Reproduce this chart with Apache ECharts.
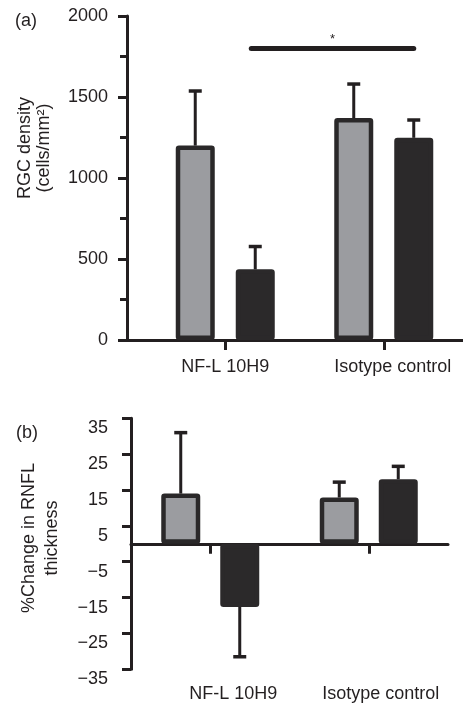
<!DOCTYPE html>
<html><head><meta charset="utf-8">
<script src="https://cdn.jsdelivr.net/npm/echarts@6/dist/echarts.min.js"></script>
<style>html,body{margin:0;padding:0;background:#fff}#c{width:463px;height:706px}</style>
</head><body><div id="c"></div>
<script>
// ---- data ----
const categories = ['NF-L 10H9', 'Isotype control'];
// (a) RGC density (cells/mm²)
const rgcGray = [1200, 1370];
const rgcGrayErr = [337, 210];
const rgcBlack = [436, 1248];
const rgcBlackErr = [141, 110];
const rgcSigValue = 1800;
const rgcSigLabel = '*';
// (b) % change in RNFL thickness
const rnflGray = [14.0, 12.9];
const rnflGrayErr = [17.0, 4.3];
const rnflBlack = [-17.6, 18.0];
const rnflBlackErr = [13.9, 3.6];
// axes
const rgcAxis = { min: 0, max: 2000, interval: 500 };
const rnflAxis = { min: -35, max: 35, interval: 10 };

// ---- style ----
const INK = '#231f20';
const GRAY = '#9b9ca0';
const DARK = '#2b292a';
const FONT = 'Liberation Sans';
const FS = 18;
const BAR_W = 39, BORDER = 4.5;
const GAP_A = 21, GAP_B = 20;

const chart = echarts.init(document.getElementById('c'), null, { renderer: 'canvas' });

function barSeries(name, data, xi, yi, color, gap) {
  return {
    type: 'bar', name, data, xAxisIndex: xi, yAxisIndex: yi,
    barWidth: BAR_W, barGap: (gap / BAR_W * 100) + '%',
    itemStyle: { color: color, borderColor: color === GRAY ? '#2a2829' : DARK, borderWidth: BORDER, borderRadius: 1 },
    emphasis: { disabled: true }, silent: true, z: 3
  };
}

function errData(g, ge, b, be) {
  const out = [];
  categories.forEach((c, i) => {
    out.push([i, g[i], ge[i], -1]);
    out.push([i, b[i], be[i], 1]);
  });
  return out;
}

function errSeries(data, xi, yi, gap) {
  const off = (BAR_W + gap) / 2;
  return {
    type: 'custom', xAxisIndex: xi, yAxisIndex: yi, data, silent: true, z: 4,
    renderItem(params, api) {
      const ci = api.value(0), mean = api.value(1), err = api.value(2), side = api.value(3);
      const end = mean + (mean >= 0 ? err : -err);
      const p0 = api.coord([ci, mean]);
      const p1 = api.coord([ci, end]);
      const x = p0[0] + side * off;
      return {
        type: 'group', children: [
          { type: 'line', shape: { x1: x, y1: p0[1], x2: x, y2: p1[1] }, style: { stroke: INK, lineWidth: 3 } },
          { type: 'line', shape: { x1: x - 6.5, y1: p1[1], x2: x + 6.5, y2: p1[1] }, style: { stroke: INK, lineWidth: 3.5 } }
        ]
      };
    }
  };
}

const sigSeries = {
  type: 'custom', xAxisIndex: 0, yAxisIndex: 0, data: [[0, 1, rgcSigValue]], silent: true, z: 4,
  renderItem(params, api) {
    const off = (BAR_W + GAP_A) / 2;
    const a = api.coord([api.value(0), api.value(2)]);
    const b = api.coord([api.value(1), api.value(2)]);
    const x1 = a[0] + off - 4, x2 = b[0] + off;
    return {
      type: 'group', children: [
        { type: 'line', shape: { x1, y1: a[1], x2, y2: b[1] }, style: { stroke: INK, lineWidth: 5, lineCap: 'round' } },
        { type: 'text', x: (x1 + x2) / 2, y: a[1] - 9, style: { text: rgcSigLabel, fontSize: 13, fontFamily: FONT, fill: INK, align: 'center', verticalAlign: 'middle' } }
      ]
    };
  }
};

const labelStyle = { color: INK, fontSize: FS, fontFamily: FONT };
const axisLineStyle = { color: INK, width: 3 };

const option = {
  animation: false,
  backgroundColor: '#fff',
  grid: [
    { left: 146, top: 16, width: 320, height: 324 },
    { left: 131, top: 418.3, width: 317, height: 251 },
    { left: 127, top: 16, width: 336, height: 324 }
  ],
  xAxis: [
    { type: 'category', gridIndex: 0, data: categories.map((c, i) => ({ value: c, textStyle: { padding: [0, 0, 0, [0, 18][i]] } })),
      axisLine: { show: false }, axisTick: { show: true, alignWithLabel: true, length: 10, lineStyle: axisLineStyle },
      axisLabel: Object.assign({ margin: 18 }, labelStyle), splitLine: { show: false } },
    { type: 'category', gridIndex: 1, position: 'top', data: categories,
      axisLine: { show: true, onZero: true, lineStyle: axisLineStyle },
      axisTick: { show: true, inside: true, alignWithLabel: true, length: 10, lineStyle: axisLineStyle },
      axisLabel: { show: false }, splitLine: { show: false } },
    { type: 'category', gridIndex: 1, position: 'bottom', data: categories.map((c, i) => ({ value: c, textStyle: { padding: [0, 0, 0, [46, 24][i]] } })),
      axisLine: { show: false, onZero: false }, axisTick: { show: false },
      axisLabel: Object.assign({ margin: 16 }, labelStyle), splitLine: { show: false } },
    { type: 'value', gridIndex: 2, min: 0, max: 1, axisLine: { show: true, onZero: true, lineStyle: axisLineStyle },
      axisTick: { show: false }, axisLabel: { show: false }, splitLine: { show: false } }
  ],
  yAxis: [
    { type: 'value', gridIndex: 0, offset: 19, min: rgcAxis.min, max: rgcAxis.max, interval: rgcAxis.interval,
      axisLine: { show: true, lineStyle: axisLineStyle },
      axisTick: { show: true, length: 9, lineStyle: axisLineStyle },
      minorTick: { show: true, splitNumber: 2, length: 7, lineStyle: { color: INK, width: 3 } },
      minorSplitLine: { show: false },
      axisLabel: Object.assign({ margin: 19, formatter: v => String(v) }, labelStyle), splitLine: { show: false } },
    { type: 'value', gridIndex: 1, min: rnflAxis.min, max: rnflAxis.max, interval: rnflAxis.interval,
      axisLine: { show: true, onZero: false, lineStyle: axisLineStyle },
      axisTick: { show: true, length: 9, lineStyle: axisLineStyle },
      axisLabel: Object.assign({ margin: 23, verticalAlign: 'top', lineHeight: 20, formatter: v => String(v).replace('-', '\u2212') }, labelStyle),
      splitLine: { show: false } },
    { type: 'value', gridIndex: 2, min: 0, max: 1, show: false }
  ],
  graphic: [
    { type: 'text', left: 15, top: 12, style: { text: '(a)', fontSize: FS, fontFamily: FONT, fill: INK } },
    { type: 'text', left: 16, top: 424, style: { text: '(b)', fontSize: FS, fontFamily: FONT, fill: INK } },
    { type: 'text', x: 35, y: 148, rotation: Math.PI / 2,
      style: { text: 'RGC density\n(cells/mm\u00b2)', fontSize: FS, lineHeight: 19, fontFamily: FONT, fill: INK, align: 'center', verticalAlign: 'middle' } },
    { type: 'text', x: 41, y: 538, rotation: Math.PI / 2,
      style: { text: '%Change in RNFL\nthickness', fontSize: FS, lineHeight: 23, fontFamily: FONT, fill: INK, align: 'center', verticalAlign: 'middle' } }
  ],
  series: [
    barSeries('Gray', rgcGray, 0, 0, GRAY, GAP_A),
    barSeries('Black', rgcBlack, 0, 0, DARK, GAP_A),
    barSeries('Gray', rnflGray, 1, 1, GRAY, GAP_B),
    barSeries('Black', rnflBlack, 1, 1, DARK, GAP_B),
    errSeries(errData(rgcGray, rgcGrayErr, rgcBlack, rgcBlackErr), 0, 0, GAP_A),
    errSeries(errData(rnflGray, rnflGrayErr, rnflBlack, rnflBlackErr), 1, 1, GAP_B),
    sigSeries
  ]
};
chart.setOption(option);
</script>
</body></html>
